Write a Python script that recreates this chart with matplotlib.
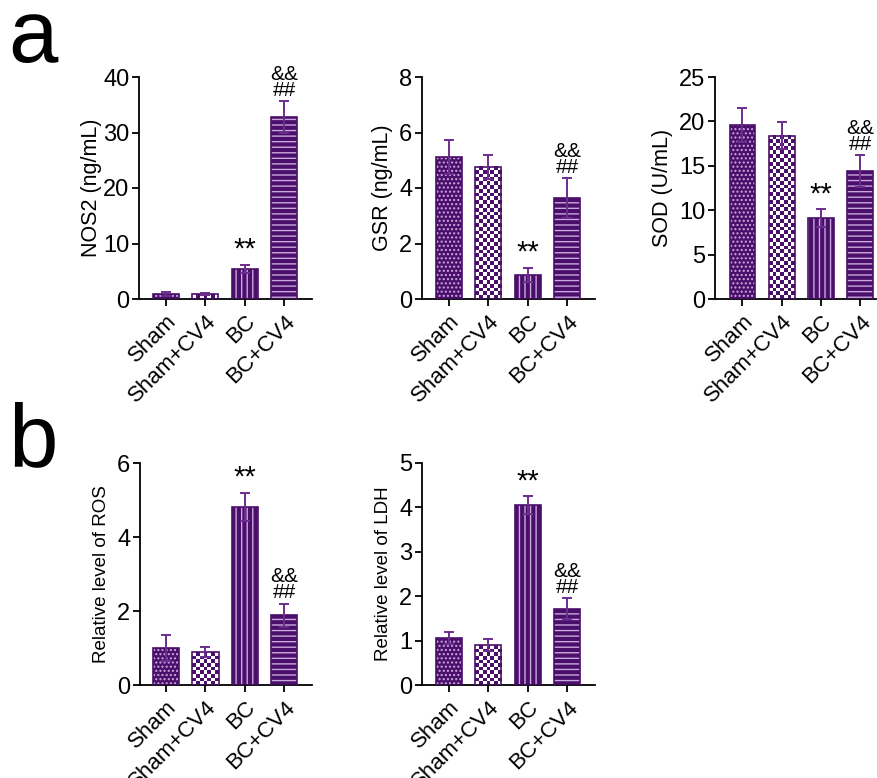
import numpy as np
import matplotlib.pyplot as plt
from matplotlib.colors import ListedColormap

plt.rcParams['font.family'] = ['Liberation Sans', 'DejaVu Sans']
plt.rcParams['hatch.linewidth'] = 1.0

groups = ['Sham', 'Sham+CV4', 'BC', 'BC+CV4']

nos2 = [0.9, 0.9, 5.4, 32.8]
nos2_err = [0.3, 0.2, 0.8, 2.9]
gsr = [5.12, 4.76, 0.86, 3.64]
gsr_err = [0.61, 0.43, 0.26, 0.72]
sod = [19.6, 18.4, 9.1, 14.4]
sod_err = [1.9, 1.5, 1.0, 1.8]
ros = [1.0, 0.89, 4.81, 1.89]
ros_err = [0.35, 0.14, 0.38, 0.31]
ldh = [1.06, 0.9, 4.05, 1.72]
ldh_err = [0.14, 0.14, 0.2, 0.23]

purple = '#4a0e6b'
light = '#c9a9dc'
errc = '#6b2d8e'
bw = 0.66

# face colour, hatch, hatch colour for each group (None = checkerboard)
styles = [
    (purple, '....', light),
    None,
    (purple, '|||', light),
    (purple, '---', light),
]

fig = plt.figure(figsize=(8.78, 7.78), dpi=100)
W, H = 878, 778
checker = ListedColormap(['white', purple])


def make_ax(x0, x1, ytop, ybot):
    return fig.add_axes([x0 / W, 1 - ybot / H, (x1 - x0) / W, (ybot - ytop) / H])


def panel(ax, vals, errs, ymax, step, ylabel, xlim, stars, marks, lsize, lpad):
    x = np.arange(len(vals))
    ax.set_xlim(*xlim)
    ax.set_ylim(0, ymax)
    for i, (v, e) in enumerate(zip(vals, errs)):
        if styles[i] is None:
            # checkerboard fill, squares of about 4 px
            p0 = ax.transData.transform((x[i] - bw / 2, 0))
            p1 = ax.transData.transform((x[i] + bw / 2, v))
            ncol = max(1, int(round((p1[0] - p0[0]) / 3.8)))
            nrow = max(1, int(round((p1[1] - p0[1]) / 3.8)))
            grid = np.add.outer(np.arange(nrow), np.arange(ncol)) % 2
            ax.imshow(grid, cmap=checker, extent=(x[i] - bw / 2, x[i] + bw / 2, 0, v),
                      aspect='auto', interpolation='nearest', zorder=2)
        else:
            fc, hatch, hc = styles[i]
            ax.bar(x[i], v, width=bw, color=fc, hatch=hatch, edgecolor=hc, linewidth=0, zorder=2)
        ax.bar(x[i], v, width=bw, fill=False, edgecolor=purple, linewidth=1.2, zorder=3)
        ax.errorbar(x[i], v, yerr=e, color=errc, capsize=3.5, elinewidth=1.4, capthick=1.4, zorder=4)
    ax.set_xlim(*xlim)
    ax.set_ylim(0, ymax)
    ax.set_yticks(np.arange(0, ymax + step / 2, step))
    ax.set_xticks(x)
    ax.set_xticklabels(groups, rotation=45, ha='right', rotation_mode='anchor', fontsize=16)
    ax.tick_params(axis='y', labelsize=17, width=1.3, length=5, pad=2)
    ax.tick_params(axis='x', width=1.3, length=5)
    for s in ['top', 'right']:
        ax.spines[s].set_visible(False)
    for s in ['left', 'bottom']:
        ax.spines[s].set_linewidth(1.3)
    ax.set_ylabel(ylabel, fontsize=lsize, labelpad=lpad)
    pad = ymax * 0.005
    ax.text(stars, vals[stars] + errs[stars] + pad, '**', ha='center', va='bottom', fontsize=21)
    ax.text(marks, vals[marks] + errs[marks] + pad, '&&\n##', ha='center', va='bottom',
            fontsize=15, linespacing=0.8)


a1 = make_ax(139, 312, 77, 299)
panel(a1, nos2, nos2_err, 40, 10, 'NOS2 (ng/mL)', (-0.68, 3.7), 2, 3, 15.5, 1)
a2 = make_ax(422, 595, 77, 299)
panel(a2, gsr, gsr_err, 8, 2, 'GSR (ng/mL)', (-0.68, 3.7), 2, 3, 15.5, 4)
a3 = make_ax(715, 876, 77, 299)
panel(a3, sod, sod_err, 25, 5, 'SOD (U/mL)', (-0.70, 3.40), 2, 3, 15.5, 4)
b1 = make_ax(140, 312, 463, 685)
panel(b1, ros, ros_err, 6, 2, 'Relative level of ROS', (-0.66, 3.7), 2, 3, 13.5, 5)
b2 = make_ax(422, 595, 463, 685)
panel(b2, ldh, ldh_err, 5, 1, 'Relative level of LDH', (-0.68, 3.7), 2, 3, 13.5, 5)

fig.text(8 / W, 1 - 62 / H, 'a', fontsize=64, va='baseline')
fig.text(8 / W, 1 - 466 / H, 'b', fontsize=64, va='baseline')

fig.savefig('out.png', dpi=100)
